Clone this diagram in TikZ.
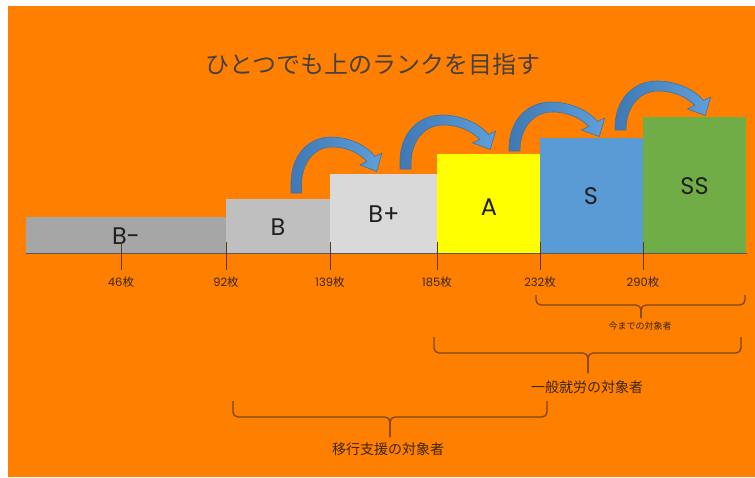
\documentclass[tikz,border=0pt]{standalone}
\usepackage{fontspec}
\newfontfamily\cjk{Noto Sans CJK JP}
\newfontfamily\lat{Poppins}
\definecolor{bg}{HTML}{FF8000}
\definecolor{cbminus}{HTML}{A6A6A6}
\definecolor{cb}{HTML}{BFBFBF}
\definecolor{cbplus}{HTML}{D9D9D9}
\definecolor{ca}{HTML}{FFFF00}
\definecolor{cs}{HTML}{5B9BD5}
\definecolor{css}{HTML}{70AD47}
\definecolor{arrowdark}{HTML}{3F78B4}
\definecolor{arrowlight}{HTML}{5EA0DA}
\definecolor{arrowedge}{HTML}{41719C}
\definecolor{axisc}{HTML}{595959}
\definecolor{tickc}{HTML}{5C3A14}
\definecolor{bracec}{HTML}{7A4510}
\definecolor{labc}{HTML}{3B2607}
\definecolor{titlec}{HTML}{474040}
\tikzset{
  ranktext/.style={font=\lat\fontsize{24}{24}\selectfont, text=black!88, inner sep=0pt},
  tickline/.style={draw=tickc, line width=1pt},
  ticklabel/.style={font=\lat\fontsize{11.5}{12}\selectfont, text=labc, inner sep=0pt},
  braceline/.style={draw=bracec, line width=1.3pt, rounded corners=5pt},
  bracelabel/.style={text=labc, inner sep=0pt},
  bluearrow/.style={left color=arrowdark, right color=arrowlight, draw=arrowedge, line width=0.6pt},
}
\newcommand\rankarrow[1]{%
  \path[bluearrow] (0,-#1) -- (0,0) .. controls (-1,30) and (18,49) .. (42,49)
    .. controls (62,49) and (80,40) .. (88.4,29.5) -- (95.6,32.9) -- (90.3,14.5) -- (72.4,21.1)
    -- (79.6,24.5) .. controls (73,32) and (60,39) .. (43,39)
    .. controls (26,39) and (11,25) .. (11,0) -- (11,-#1) -- cycle;}
\begin{document}
\begin{tikzpicture}[x=1pt,y=-1pt]
\useasboundingbox (0,0) rectangle (755,477);
\fill[bg] (8,6) rectangle (755,477);

% title
\node[font=\cjk\fontsize{24}{24}\selectfont, text=titlec] (title) at (373,64) {ひとつでも上のランクを目指す};

% bars
\fill[cbminus] (26,217) rectangle (226,253.5);
\fill[cb] (226,199) rectangle (330,253.5);
\fill[cbplus] (330,174) rectangle (437,253.5);
\fill[ca] (437,154) rectangle (540,253.5);
\fill[cs] (540,137.5) rectangle (643,253.5);
\fill[css] (643,117) rectangle (746,253.5);

% arrows
\begin{scope}[shift={(291,186)}, yscale=-1, xscale=0.95]\rankarrow{7}\end{scope}
\begin{scope}[shift={(400,164)}, yscale=-1]\rankarrow{5}\end{scope}
\begin{scope}[shift={(509,151)}, yscale=-1]\rankarrow{0}\end{scope}
\begin{scope}[shift={(615,130)}, yscale=-1]\rankarrow{0}\end{scope}

% axis
\draw[draw=axisc, line width=1.5pt] (26,253.5) -- (747,253.5);

% rank letters
\node[ranktext] (rbm) at (126,236.5) {B-};
\node[ranktext] (rb) at (278,227) {B};
\node[ranktext] (rbp) at (384,214) {B+};
\node[ranktext] (ra) at (489,207) {A};
\node[ranktext] (rs) at (591,196.5) {S};
\node[ranktext] (rss) at (694.5,186) {SS};

% ticks and labels
\foreach \x/\v [count=\i] in {121/46,226/92,330/139,437/185,540/232,643/290}{
  \draw[tickline] (\x,242) -- (\x,270);
  \node[ticklabel] (t\i) at (\x,282) {\v{\cjk\fontsize{11.5}{12}\selectfont 枚}};
}

% braces
\draw[braceline] (536,295) -- (536,305) -- (641,305) -- (641,318);
\draw[braceline] (745,295) -- (745,305) -- (641,305) -- (641,318);
\node[bracelabel, font=\cjk\fontsize{9}{9}\selectfont] (l1) at (640,326) {今までの対象者};

\draw[braceline] (434,337) -- (434,353) -- (588,353) -- (588,373);
\draw[braceline] (741,337) -- (741,353) -- (588,353) -- (588,373);
\node[bracelabel, font=\cjk\fontsize{14}{14}\selectfont] (l2) at (587,387) {一般就労の対象者};

\draw[braceline] (233,401) -- (233,417) -- (390,417) -- (390,437);
\draw[braceline] (547,401) -- (547,417) -- (390,417) -- (390,437);
\node[bracelabel, font=\cjk\fontsize{14}{14}\selectfont] (l3) at (388,449) {移行支援の対象者};
\end{tikzpicture}
\end{document}
